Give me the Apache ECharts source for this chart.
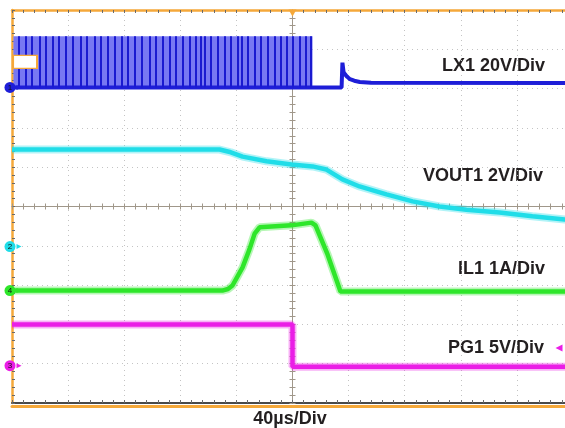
<!DOCTYPE html>
<html>
<head>
<meta charset="utf-8">
<script src="https://cdn.jsdelivr.net/npm/echarts@6/dist/echarts.min.js"></script>
<style>
html, body { margin: 0; padding: 0; background: #fff; }
#main { width: 565px; height: 428px; }
</style>
</head>
<body>
<div id="main"></div>
<script>
// horizontal: time in µs (40µs/div, trigger at 0); vertical: screen divisions
var timeMin = -200, timeMax = 200, timeStep = 40;
var divMin = -5, divMax = 5;

// LX1 switching burst: window, low/high level, edge positions
var lx1Burst = [-199, 14.3];
var lx1Levels = [3.03, 4.33];
var lx1Edges = [-195.1, -189.9, -185.9, -179.9, -175.6, -171.3, -166.6, -161.4, -156.6, -150.7,
    -146.7, -141.2, -136.4, -131.7, -126.9, -122.1, -117.4, -112.6, -107.2, -102.0,
    -97.2, -92.5, -87.7, -82.9, -78.2, -73.4, -68.7, -65.5, -62.7, -58.0, -53.3, -48.5,
    -43.7, -39.0, -35.9, -31.9, -27.1, -22.3, -17.6, -12.8, -8.1, -4.1, 0.2, 5.0, 9.3, 13.3];
var lx1Tail = [[-200, 3.03], [35, 3.03], [35.6, 3.66], [36.4, 3.42], [37.5, 3.36], [39, 3.3],
    [41, 3.24], [44, 3.2], [48, 3.17], [56, 3.15], [200, 3.14]];

var vout1 = [[-200, 1.45], [-52, 1.45], [-44, 1.38], [-35.6, 1.27], [-18.5, 1.15], [-0.7, 1.07],
    [14.3, 1.02], [24.2, 0.94], [35.6, 0.69], [47.8, 0.51], [67, 0.31], [85.6, 0.13],
    [104.8, 0.0], [124, -0.08], [147.6, -0.15], [171, -0.25], [194, -0.33], [200, -0.34]];

var il1 = [[-200, -2.14], [-50, -2.14], [-46, -2.1], [-42.8, -2.01], [-35.6, -1.55], [-30.7, -1.09],
    [-27, -0.69], [-23.5, -0.53], [-0.7, -0.48], [13.5, -0.41], [16.4, -0.48],
    [25, -1.22], [34.2, -2.16], [200, -2.16]];

var pg1 = [[-200, -3.0], [0, -3.0], [0, -4.08], [200, -4.08]];

// channel ground markers on the left edge
var chNames = ['1', '2', '4', '3'];
var chLevels = [3.03, -1.02, -2.14, -4.05];
var trigLevelPg = -3.6;
var tagPos = [-190.7, 3.68];

var traceLabels = ['LX1 20V/Div', 'VOUT1 2V/Div', 'IL1 1A/Div', 'PG1 5V/Div'];
var timeLabel = '40\u00b5s/Div';

var orange = '#f5a83a', cross = '#a0978a', dots = '#c4c4c4', tickC = '#6a6a6a';
var chColors = ['#1e1ed8', '#20dde8', '#2ee62a', '#ea1ee6'];
var font = 'bold 18px "Liberation Sans", Arial, sans-serif';

function xAx(pos, extra) {
    return Object.assign({
        type: 'value', min: timeMin, max: timeMax, interval: timeStep, position: pos,
        axisLabel: { show: false }, splitLine: { show: false }
    }, extra);
}
function yAx(pos, extra) {
    return Object.assign({
        type: 'value', min: divMin, max: divMax, interval: 1, position: pos,
        axisLabel: { show: false }, splitLine: { show: false }
    }, extra);
}
function ticks(color) {
    return {
        axisTick: { show: true, inside: true, length: 3, lineStyle: { color: color } },
        minorTick: { show: true, splitNumber: 5, length: 3, lineStyle: { color: color } }
    };
}

function chMark(i) {
    return [{
        coord: [timeMin, chLevels[i]], symbol: 'circle', symbolSize: 11, symbolOffset: [-2, 0],
        itemStyle: { color: chColors[i] },
        label: { show: true, position: 'inside', formatter: chNames[i], color: '#111', fontSize: 8 }
    }, {
        coord: [timeMin, chLevels[i]], symbol: 'triangle', symbolRotate: -90, symbolSize: [5, 5],
        symbolOffset: [7, 0], itemStyle: { color: chColors[i] }, label: { show: false }
    }];
}

// a trace = a soft wide halo (the noise band) plus its solid core
function trace(data, color, z, marks) {
    return [{
        type: 'line', z: z, symbol: 'none', data: data, silent: true,
        lineStyle: { color: color, width: 8, opacity: 0.35 }
    }, {
        type: 'line', z: z + 1, symbol: 'none', data: data, silent: true,
        lineStyle: { color: color, width: 4.5 },
        markPoint: { silent: true, data: marks }
    }];
}

var myChart = echarts.init(document.getElementById('main'));

var series = [{
    // LX1 low level + ringing after the burst, with the burst envelope
    type: 'line', z: 2, symbol: 'none', data: lx1Tail,
    lineStyle: { color: chColors[0], width: 4 },
    markArea: {
        silent: true,
        itemStyle: { color: '#7878f2', opacity: 1 },
        data: [[{ coord: [lx1Burst[0], lx1Levels[0]] }, { coord: [lx1Burst[1], lx1Levels[1]] }]]
    },
    markPoint: {
        silent: true,
        data: chMark(0).concat([{
            coord: [0, divMax], symbol: 'triangle', symbolRotate: 180, symbolSize: [8, 7],
            symbolOffset: [0, 3], itemStyle: { color: orange }, label: { show: false }
        }, {
            coord: tagPos, symbol: 'rect', symbolSize: [24, 13],
            itemStyle: { color: '#fff', borderColor: orange, borderWidth: 1.5 }, label: { show: false }
        }])
    }
}, {
    type: 'lines', coordinateSystem: 'cartesian2d', z: 3, silent: true,
    lineStyle: { color: '#1a1ad0', width: 2, opacity: 1 },
    data: lx1Edges.map(function (t) {
        return { coords: [[t, lx1Levels[0]], [t, lx1Levels[1]]] };
    })
}];
series = series
    .concat(trace(vout1, chColors[1], 4, chMark(1)))
    .concat(trace(il1, chColors[2], 4, chMark(2)))
    .concat(trace(pg1, chColors[3], 4, chMark(3).concat([{
        coord: [190, trigLevelPg], symbol: 'triangle', symbolRotate: 90, symbolSize: [7, 7],
        itemStyle: { color: chColors[3] }, label: { show: false }
    }])));

var option = {
    animation: false,
    backgroundColor: '#fff',
    grid: { left: 12, top: 10, width: 561, height: 393, outerBoundsMode: 'none' },
    xAxis: [
        xAx('bottom', Object.assign({
            axisLine: { onZero: false, lineStyle: { color: '#4a4a4a', width: 2 } },
            splitLine: { show: true, lineStyle: { color: dots, type: [1, 4] } }
        }, ticks(tickC))),
        xAx('bottom', { offset: 3, axisLine: { onZero: false, lineStyle: { color: orange, width: 3 } }, axisTick: { show: false } }),
        xAx('top', Object.assign({ axisLine: { onZero: false, lineStyle: { color: orange, width: 2.5 } } }, ticks(tickC))),
        xAx('bottom', Object.assign({ axisLine: { onZero: true, lineStyle: { color: cross } } }, ticks(cross))),
        xAx('top', Object.assign({ axisLine: { onZero: true, lineStyle: { color: cross } } }, ticks(cross)))
    ],
    yAxis: [
        yAx('left', Object.assign({
            axisLine: { onZero: false, lineStyle: { color: orange, width: 2.5 } },
            splitLine: { show: true, lineStyle: { color: dots, type: [1, 4] } }
        }, ticks(tickC))),
        yAx('left', Object.assign({ axisLine: { onZero: true, lineStyle: { color: cross } } }, ticks(cross))),
        yAx('right', Object.assign({ axisLine: { onZero: true, lineStyle: { color: cross } } }, ticks(cross)))
    ],
    graphic: [
        { type: 'text', x: 545, y: 66.5, style: { text: traceLabels[0], font: font, fill: '#231f20', textAlign: 'right', textVerticalAlign: 'middle' } },
        { type: 'text', x: 543, y: 176, style: { text: traceLabels[1], font: font, fill: '#231f20', textAlign: 'right', textVerticalAlign: 'middle' } },
        { type: 'text', x: 545, y: 269, style: { text: traceLabels[2], font: font, fill: '#231f20', textAlign: 'right', textVerticalAlign: 'middle' } },
        { type: 'text', x: 544, y: 348.5, style: { text: traceLabels[3], font: font, fill: '#231f20', textAlign: 'right', textVerticalAlign: 'middle' } },
        { type: 'text', x: 290, y: 419, style: { text: timeLabel, font: font, fill: '#231f20', textAlign: 'center', textVerticalAlign: 'middle' } }
    ],
    series: series
};

myChart.setOption(option);
</script>
</body>
</html>
